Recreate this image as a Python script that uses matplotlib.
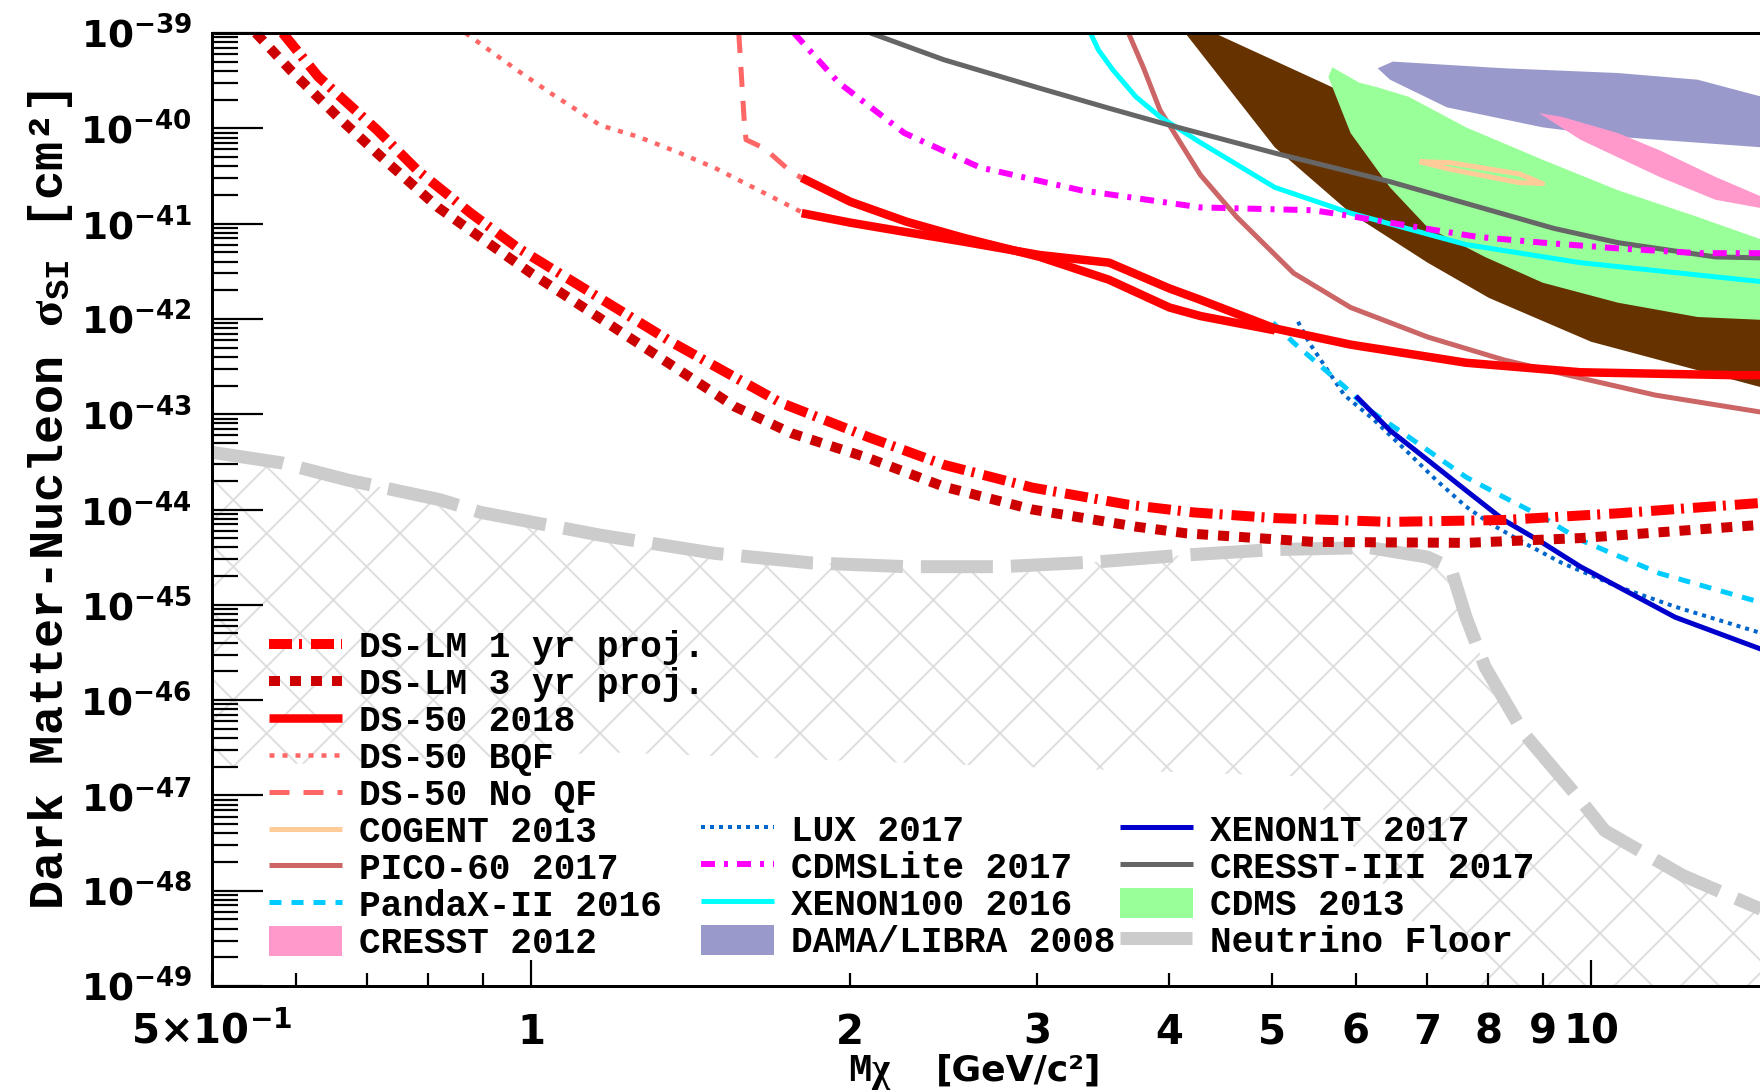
import numpy as np
import matplotlib
matplotlib.use("Agg")
import matplotlib.pyplot as plt
from matplotlib.ticker import FixedLocator, FixedFormatter, NullFormatter

# ---------------------------------------------------------------------------
# Data: dark-matter mass [GeV/c^2] and log10 of sigma_SI [cm^2]
# ---------------------------------------------------------------------------
dslm_1yr_mass = [0.583, 0.630, 0.716, 0.781, 0.877, 0.970, 1.36, 1.72, 2.08, 2.45,
                 2.97, 3.66, 4.21, 5.03, 6.46, 8.27, 10.6, 14.5]
dslm_1yr_logxs = [-39.00, -39.46, -40.02, -40.44, -40.89, -41.25, -42.25, -42.88, -43.24, -43.53,
                  -43.77, -43.95, -44.03, -44.09, -44.13, -44.11, -44.04, -43.93]

dslm_3yr_mass = [0.550, 0.593, 0.657, 0.727, 0.817, 0.902, 1.00, 1.30, 1.556, 1.76,
                 2.08, 2.45, 2.97, 3.72, 4.15, 5.47, 7.62, 9.77, 14.5]
dslm_3yr_logxs = [-39.00, -39.39, -39.88, -40.33, -40.83, -41.17, -41.52, -42.35, -42.92, -43.20,
                  -43.46, -43.76, -44.00, -44.18, -44.25, -44.34, -44.35, -44.30, -44.16]

ds50_a_mass = [1.80, 2.00, 2.26, 2.56, 3.02, 3.51, 4.00, 4.28, 5.03]
ds50_a_logxs = [-40.52, -40.77, -40.98, -41.15, -41.35, -41.59, -41.88, -41.97, -42.12]
ds50_b_mass = [1.80, 2.00, 2.26, 2.56, 3.02, 3.51, 4.00, 4.28, 5.03, 5.93, 7.62, 9.77, 13.6, 14.5]
ds50_b_logxs = [-40.89, -40.99, -41.09, -41.19, -41.33, -41.41, -41.68, -41.80, -42.10, -42.27,
                -42.46, -42.56, -42.59, -42.59]

ds50_bqf_mass = [0.867, 0.970, 1.043, 1.163, 1.263, 1.375, 1.493, 1.62, 1.80]
ds50_bqf_logxs = [-39.00, -39.39, -39.63, -39.97, -40.09, -40.25, -40.42, -40.62, -40.88]

ds50_noqf_mass = [1.57, 1.59, 1.595, 1.66, 1.76, 1.80]
ds50_noqf_logxs = [-39.00, -39.99, -40.12, -40.21, -40.46, -40.52]

cdmslite_mass = [1.77, 1.95, 2.25, 2.65, 3.30, 4.28, 5.47, 5.85, 6.46, 7.14, 7.82, 9.0, 10.6, 12.6, 14.5]
cdmslite_logxs = [-39.00, -39.52, -40.05, -40.41, -40.65, -40.83, -40.86, -40.91, -40.99, -41.07,
                  -41.14, -41.20, -41.26, -41.31, -41.31]

cresst3_mass = [2.09, 2.45, 3.02, 3.51, 3.92, 5.03, 6.46, 9.22, 10.6, 13.1, 14.5]
cresst3_logxs = [-39.00, -39.28, -39.58, -39.79, -39.94, -40.26, -40.56, -41.05, -41.20, -41.35, -41.36]

xenon100_mass = [3.37, 3.43, 3.54, 3.72, 3.92, 4.28, 5.03, 5.93, 7.62, 9.77, 14.5]
xenon100_logxs = [-39.00, -39.18, -39.39, -39.67, -39.88, -40.15, -40.62, -40.89, -41.22, -41.41, -41.61]

pico_mass = [3.66, 3.78, 3.92, 4.28, 4.63, 5.24, 5.93, 7.01, 8.27, 9.77, 11.5, 14.5]
pico_logxs = [-39.00, -39.36, -39.81, -40.49, -40.93, -41.52, -41.88, -42.19, -42.43, -42.62, -42.80, -42.98]

lux_mass = [5.29, 5.42, 5.85, 6.24, 6.73, 7.14, 7.62, 8.01, 8.64, 9.38, 10.6, 12.0, 14.5]
lux_logxs = [-42.03, -42.25, -42.80, -43.06, -43.41, -43.69, -43.97, -44.14, -44.35, -44.56,
             -44.81, -45.02, -45.30]

pandax_mass = [5.01, 5.24, 5.85, 6.18, 6.73, 7.62, 8.27, 9.0, 9.77, 11.6, 14.5]
pandax_logxs = [-42.04, -42.25, -42.71, -42.96, -43.24, -43.66, -43.87, -44.08, -44.32, -44.67, -44.98]

xenon1t_mass = [6.00, 6.46, 7.01, 7.62, 8.27, 9.0, 9.77, 10.6, 12.0, 14.5]
xenon1t_logxs = [-42.81, -43.17, -43.48, -43.80, -44.11, -44.35, -44.60, -44.81, -45.13, -45.47]

nu_floor_mass = [0.5, 0.581, 0.671, 0.822, 0.896, 1.163, 1.49, 1.835, 2.26, 2.78, 3.42, 4.11,
                 5.03, 6.18, 7.01, 7.37, 7.62, 7.94, 8.64, 9.77, 10.3, 12.2, 14.5]
nu_floor_logxs = [-43.40, -43.51, -43.69, -43.90, -44.03, -44.27, -44.46, -44.56, -44.60, -44.60,
                  -44.55, -44.48, -44.42, -44.40, -44.50, -44.61, -45.13, -45.65, -46.35, -47.05,
                  -47.37, -47.84, -48.20]

# lower edge of the hatched neutrino-background region
nu_hatch_edge_mass = [0.5, 1.2, 3.9, 5.35, 5.5, 6.55, 7.25, 7.65, 14.5]
nu_hatch_edge_logxs = [-46.70, -46.55, -46.75, -46.80, -47.05, -48.10, -48.75, -49.20, -49.20]

# closed regions: an upper and a lower boundary each
band_lower_mass = [4.14, 5.03, 5.93, 7.01, 8.01, 10.0, 14.5]
band_lower_logxs = [-39.00, -40.20, -40.89, -41.41, -41.78, -42.24, -42.72]
band_upper_mass = [4.41, 5.65, 7.62, 10.6, 14.5]
band_upper_logxs = [-39.00, -39.55, -40.23, -40.91, -41.43]

cdms_upper_mass = [5.65, 5.70, 6.04, 6.29, 6.73, 7.62, 9.0, 10.6, 12.6, 14.5]
cdms_upper_logxs = [-39.46, -39.36, -39.52, -39.57, -39.67, -39.99, -40.33, -40.65, -40.93, -41.17]
cdms_lower_mass = [5.65, 5.93, 6.46, 7.01, 7.94, 9.0, 10.6, 12.6, 14.5]
cdms_lower_logxs = [-39.46, -40.05, -40.62, -41.04, -41.35, -41.62, -41.83, -41.98, -42.01]

dama_upper_mass = [6.29, 6.50, 8.27, 10.6, 12.6, 14.5]
dama_upper_logxs = [-39.37, -39.30, -39.37, -39.42, -39.49, -39.67]
dama_lower_mass = [6.29, 6.46, 7.31, 9.0, 10.6, 14.5]
dama_lower_logxs = [-39.37, -39.49, -39.78, -39.99, -40.09, -40.20]

cresst12_upper_mass = [8.93, 9.38, 10.6, 11.6, 13.1, 14.5]
cresst12_upper_logxs = [-39.84, -39.88, -40.05, -40.23, -40.51, -40.72]
cresst12_lower_mass = [8.93, 9.77, 11.6, 13.1, 14.5]
cresst12_lower_logxs = [-39.84, -40.12, -40.51, -40.75, -40.84]

cogent_mass = [6.89, 7.36, 7.94, 8.56, 9.0, 8.56, 7.94, 7.36, 6.89]
cogent_logxs = [-40.35, -40.36, -40.42, -40.48, -40.58, -40.57, -40.50, -40.43, -40.35]

# axis ticks
y_exponents = list(range(-49, -38))
x_major_ticks = [1, 10]
x_major_labels = ["1", "10"]
x_minor_ticks = [0.5, 0.6, 0.7, 0.8, 0.9, 2, 3, 4, 5, 6, 7, 8, 9]
x_minor_labels = [r"$\mathbf{5{\times}10^{-1}}$", "", "", "", "", "2", "3", "4", "5", "6", "7", "8", "9"]

# ---------------------------------------------------------------------------
DPI = 200
W, H = 1760, 1092


def pt(px):
    return px * 72.0 / DPI


def xs(logv):
    return np.power(10.0, np.asarray(logv, dtype=float))


def closed(upper_m, upper_l, lower_m, lower_l):
    m = np.concatenate([upper_m, lower_m[::-1]])
    s = xs(np.concatenate([upper_l, lower_l[::-1]]))
    return m, s


plt.rcParams.update({
    "font.family": "DejaVu Sans",
    "font.weight": "bold",
    "mathtext.fontset": "custom",
    "mathtext.rm": "Liberation Mono:bold",
    "mathtext.it": "Liberation Serif",
    "mathtext.bf": "DejaVu Sans:bold",
    "lines.scale_dashes": False,
    "lines.solid_capstyle": "butt",
    "lines.dash_capstyle": "butt",
    "hatch.linewidth": 0.7,
    "hatch.color": "#dedede",
})

fig = plt.figure(figsize=(W / DPI, H / DPI), dpi=DPI)
ax = fig.add_axes([212 / W, (H - 986) / H, (W - 212) / W, 953 / H])
ax.set_xscale("log")
ax.set_yscale("log")
ax.set_xlim(0.5, 14.43)
ax.set_ylim(1e-49, 1e-39)

# neutrino background: hatched region under the floor
hm = np.concatenate([nu_floor_mass, nu_hatch_edge_mass[::-1]])
hs = xs(np.concatenate([nu_floor_logxs, nu_hatch_edge_logxs[::-1]]))
ax.fill(hm, hs, facecolor="none", edgecolor="#dedede", hatch="x", lw=0, zorder=1)
nu_line, = ax.plot(nu_floor_mass, xs(nu_floor_logxs), color="#cccccc", lw=pt(13),
                   dashes=(pt(72), pt(18)), zorder=2)

# signal / exclusion regions
m, s = closed(band_upper_mass, band_upper_logxs, band_lower_mass, band_lower_logxs)
ax.fill(m, s, color="#663300", lw=0, zorder=3)
m, s = closed(cdms_upper_mass, cdms_upper_logxs, cdms_lower_mass, cdms_lower_logxs)
cdms_poly, = ax.fill(m, s, color="#99ff99", lw=0, zorder=3.1)
m, s = closed(dama_upper_mass, dama_upper_logxs, dama_lower_mass, dama_lower_logxs)
dama_poly, = ax.fill(m, s, color="#9999cc", lw=0, zorder=3.2)
m, s = closed(cresst12_upper_mass, cresst12_upper_logxs, cresst12_lower_mass, cresst12_lower_logxs)
cresst12_poly, = ax.fill(m, s, color="#ff99cc", lw=0, zorder=3.3)
cogent_line, = ax.plot(cogent_mass, xs(cogent_logxs), color="#ffcc99", lw=pt(5), zorder=3.4)

# experimental limits
pico_line, = ax.plot(pico_mass, xs(pico_logxs), color="#cc6666", lw=pt(5), zorder=4)
xe100_line, = ax.plot(xenon100_mass, xs(xenon100_logxs), color="#00ffff", lw=pt(5), zorder=4)
cresst3_line, = ax.plot(cresst3_mass, xs(cresst3_logxs), color="#666666", lw=pt(5), zorder=4)
cdmslite_line, = ax.plot(cdmslite_mass, xs(cdmslite_logxs), color="#ff00ff", lw=pt(6),
                         dashes=(pt(14), pt(9), pt(4), pt(9)), zorder=4.2)
lux_line, = ax.plot(lux_mass, xs(lux_logxs), color="#0066cc", lw=pt(4),
                    dashes=(pt(4), pt(5)), zorder=4.1)
pandax_line, = ax.plot(pandax_mass, xs(pandax_logxs), color="#00ccff", lw=pt(5),
                       dashes=(pt(12), pt(10)), zorder=4.1)
xe1t_line, = ax.plot(xenon1t_mass, xs(xenon1t_logxs), color="#0000cc", lw=pt(5), zorder=4.1)

# DarkSide results and projections
bqf_line, = ax.plot(ds50_bqf_mass, xs(ds50_bqf_logxs), color="#ff6666", lw=pt(4.5),
                    dashes=(pt(5), pt(8)), zorder=5)
noqf_line, = ax.plot(ds50_noqf_mass, xs(ds50_noqf_logxs), color="#ff6666", lw=pt(5),
                     dashes=(pt(20), pt(14)), zorder=5)
ds50_line, = ax.plot(ds50_a_mass, xs(ds50_a_logxs), color="#ff0000", lw=pt(8.5), zorder=5)
ax.plot(ds50_b_mass, xs(ds50_b_logxs), color="#ff0000", lw=pt(8.5), zorder=5)
dslm1_line, = ax.plot(dslm_1yr_mass, xs(dslm_1yr_logxs), color="#ff0000", lw=pt(10),
                      dashes=(pt(23), pt(7), pt(3), pt(9)), zorder=5.1)
dslm3_line, = ax.plot(dslm_3yr_mass, xs(dslm_3yr_logxs), color="#cc0000", lw=pt(10),
                      dashes=(pt(11), pt(10)), zorder=5.1)

# ---------------------------------------------------------------------------
# axes decoration
for side in ("left", "top", "bottom"):
    ax.spines[side].set_linewidth(pt(3))
    ax.spines[side].set_zorder(10)
ax.spines["right"].set_visible(False)

ax.yaxis.set_major_locator(FixedLocator([10.0 ** e for e in y_exponents]))
ax.yaxis.set_major_formatter(FixedFormatter([r"$\mathbf{10^{%d}}$" % e for e in y_exponents]))
ax.yaxis.set_minor_locator(FixedLocator([k * 10.0 ** e for e in y_exponents[:-1] for k in range(2, 10)]))
ax.yaxis.set_minor_formatter(NullFormatter())

ax.xaxis.set_major_locator(FixedLocator(x_major_ticks))
ax.xaxis.set_major_formatter(FixedFormatter(x_major_labels))
ax.xaxis.set_minor_locator(FixedLocator(x_minor_ticks))
ax.xaxis.set_minor_formatter(FixedFormatter(x_minor_labels))

ax.tick_params(axis="both", which="both", direction="in", top=False, right=False,
               width=pt(2.2), color="black")
ax.tick_params(axis="y", which="major", length=pt(51), pad=pt(20), labelsize=13.5)
ax.tick_params(axis="y", which="minor", length=pt(26))
ax.tick_params(axis="x", which="major", length=pt(26), pad=pt(58), labelsize=14.5)
ax.tick_params(axis="x", which="minor", length=pt(13), pad=pt(58), labelsize=14.5)
for t in ax.xaxis.get_major_ticks() + ax.xaxis.get_minor_ticks():
    t.label1.set_verticalalignment("baseline")

fig.text(51 / W, 1 - 500 / H, "Dark Matter-Nucleon $\\sigma_{\\mathrm{SI}}$ [cm²]",
         rotation=90, ha="center", va="center", fontfamily="Liberation Mono",
         fontweight="bold", fontsize=17.5)
fig.text(848 / W, 1 - 1081 / H, "M$\\chi$", ha="left", va="baseline",
         fontfamily="Liberation Mono", fontweight="bold", fontsize=14)
fig.text(936 / W, 1 - 1081 / H, "[GeV/c²]", ha="left", va="baseline",
         fontfamily="DejaVu Sans", fontweight="bold", fontsize=13)

# ---------------------------------------------------------------------------
# legends (three columns)
leg_kw = dict(loc="upper left", frameon=False, borderpad=0, borderaxespad=0,
              handlelength=2.03, handletextpad=0.45, labelspacing=0.042, handleheight=0.9,
              prop=dict(family="Liberation Mono", weight="bold", size=13))

col1 = [(dslm1_line, "DS-LM 1 yr proj."), (dslm3_line, "DS-LM 3 yr proj."),
        (ds50_line, "DS-50 2018"), (bqf_line, "DS-50 BQF"), (noqf_line, "DS-50 No QF"),
        (cogent_line, "COGENT 2013"), (pico_line, "PICO-60 2017"),
        (pandax_line, "PandaX-II 2016"), (cresst12_poly, "CRESST 2012")]
col2 = [(lux_line, "LUX 2017"), (cdmslite_line, "CDMSLite 2017"),
        (xe100_line, "XENON100 2016"), (dama_poly, "DAMA/LIBRA 2008")]
col3 = [(xe1t_line, "XENON1T 2017"), (cresst3_line, "CRESST-III 2017"),
        (cdms_poly, "CDMS 2013"), (nu_line, "Neutrino Floor")]

row1_top = 630
row6_top = row1_top + 5 * 36.75
for entries, x0, y0 in ((col1, 269, row1_top), (col2, 701, row6_top), (col3, 1120, row6_top)):
    h, l = zip(*entries)
    fig.legend(h, l, bbox_to_anchor=(x0 / W, 1 - y0 / H), **leg_kw)

fig.savefig("out.png", dpi=DPI)
